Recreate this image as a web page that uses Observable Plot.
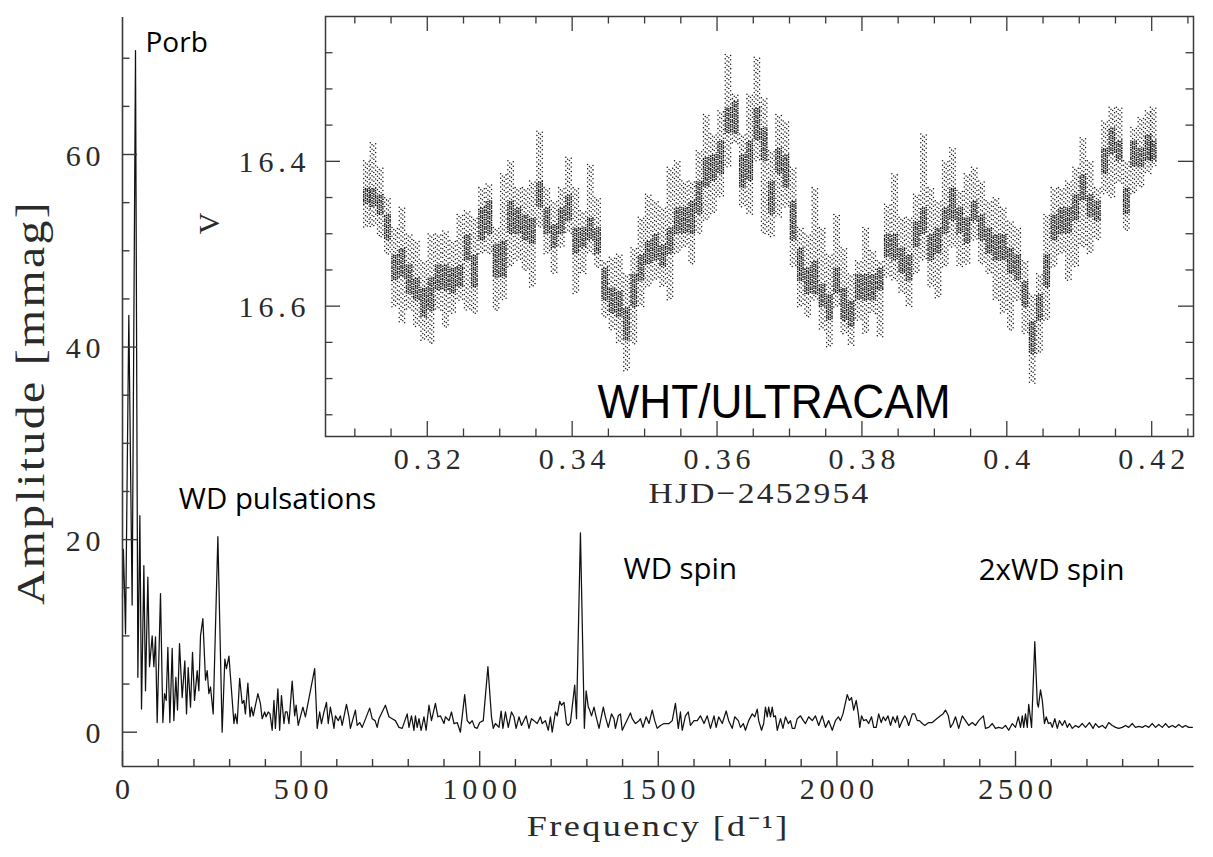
<!DOCTYPE html>
<html><head><meta charset="utf-8">
<script src="https://cdn.jsdelivr.net/npm/d3@7"></script>
<script src="https://cdn.jsdelivr.net/npm/@observablehq/plot@0.6"></script>
<style>
html,body{margin:0;padding:0;background:#fff;}
#wrap{position:relative;width:1213px;height:857px;overflow:hidden;background:#fff;}
#wrap svg{position:absolute;}
</style></head><body><div id="wrap"></div>
<script>
// ---------------- Periodogram (main panel) ----------------
const freq = [0,2.5,5.5,8.5,17.7,27,36.4,43,48.6,53.2,59.8,64.4,71,75.6,83.1,87.8,92.4,97.1,106.4,113,117.6,122.3,127,132.6,139.1,143.8,149.4,154,159.6,167.1,174.5,179.2,183.9,190.4,196,201.6,209.1,213.8,218.4,225,232.4,237.1,241.8,246.4,253.9,267,279,
286.5,291,298,312,316,321,328,335,340,344,351,357,361,366,379,386,391,398,402,408,413,419,424,428,435,440,445,452,456,461,466,475,482,486,492,498,505,512,526,538,545,552,557,564,571,576,582,587,592,596,604,610,615,627,634,638,652,657,664,671,692,699,707,713,718,736,746,755,764,774,783,797,802,809,816,820,825,830,836,844,850,858,865,876,883,890,900,904,914,921,928,937,946,958,965,972,979,986,993,1000,1010,1023,1033,1038,1044,1054,1060,1065,1072,
1080,1089,1096,1102,1110,1117,1130,1138,1145,1152,1161,1170,1175,1184,1192,1198,1203,1212,1217,1224,1229,1236,1243,1248,1254,1266,1271,1282,1293,1298,1304,1307,1313,1320,1326,1334,1346,1352,1360,1369,1376,1380,1388,1394,1399,1408,1422,1427,1436,1446,1450,1457,1466,1474,1483,1490,1497,1506,1516,1530,1539,1548,1556,1562,1567,1576,1584,1590,1600,1609,1618,1628,1637,1646,1656,1662,1669,1679,1690,1697,1707,1714,1724,1730,1738,1744,1753,1763,1770,1777,1781,1789,1795,1800,1805,1809,1814,1819,1823,1828,1833,1842,1849,1856,1864,1870,1875,1882,1889,1898,1906,1912,1921,1931,1940,1949,1959,1968,1977,1987,1996,
2004,2010,2017,2029,2035,2041,2047,2054,2060,2064,2069,2075,2082,2089,2097,2103,2110,2117,2124,2130,2136,2143,2150,2157,2164,2169,2175,2183,2190,2195,2201,2211,2218,2225,2231,2239,2246,2257,2267,2276,2290,2297,2304,2312,2318,2325,2332,2341,2351,2360,2369,2379,2388,2397,2410,2416,2425,2435,2444,2453,2463,2472,2481,2491,2500,2508,2514,2519,2523,2528,2533,2537,2545,2554,2561,2564,2570,2575,2581,2586,2592,2598,2603,2610,2617,2623,2631,2638,2645,2651,2659,2668,2677,2687,2696,2707,2717,2724,2733,2743,2752,2761,2771,2780,2789,2799,2808,2817,2827,2836,2845,2855,2864,2873,2883,2892,2901,2911,2920,2929,2939,2948,2957,2967,2976,2985,2995];
const amp = [14,19,15,10.2,43.3,13.2,70.8,5.7,22.5,2.4,17.3,4.3,16.1,6.8,10.0,6.8,9.9,1.0,14.4,1.0,4.0,3.3,8.8,1.0,8.7,1.2,5.7,2.3,9.2,3.6,7.4,1.9,6.7,2.6,8.3,3.3,6.4,4.3,10.0,11.8,5.4,6.4,4.0,4.7,1.9,20.3,0.0,
7.6,6.6,7.9,0.9,1.9,0.9,5.6,3.0,3.3,1.9,5.1,1.6,2.6,1.7,4.0,3.0,1.4,2.1,1.6,2.1,1.9,0.2,3.3,0.4,4.5,0.2,3.8,0.9,2.1,2.1,0.9,5.3,1.7,2.8,0.7,1.6,2.6,1.6,4.3,6.6,0.4,2.1,0.9,2.1,3.1,0.9,2.6,1.6,0.4,1.7,1.2,1.7,0.7,2.9,1.6,0.4,2.3,0.7,1.0,0.5,2.5,1.4,1.2,0.5,1.4,2.8,1.6,1.4,1.2,0.5,0.4,1.9,0.5,1.7,0.2,1.7,0.5,1.4,0.2,1.6,0.2,2.8,1.2,3.0,1.6,1.7,0.9,1.6,1.2,2.1,0.9,1.0,0.0,3.9,1.2,0.9,1.2,0.5,0.4,1.0,1.2,6.8,1.6,0.4,0.9,0.5,2.2,0.4,2.1,
0.5,2.1,1.6,0.4,1.6,0.7,1.7,0.4,1.4,1.2,0.9,1.6,0.9,1.2,0.2,1.6,0.0,2.1,1.7,3.2,2.8,3.1,0.9,0.7,1.0,4.9,1.4,20.7,0.4,4.3,2.6,2.4,1.7,2.6,1.6,0.4,2.6,1.6,0.5,1.9,1.4,0.4,1.7,1.9,0.2,0.9,2.0,1.4,0.9,1.2,1.4,0.5,1.6,0.9,2.3,1.2,0.4,0.7,0.9,0.9,1.2,3.0,0.4,2.1,0.2,1.7,2.1,0.7,1.2,1.2,1.7,0.9,1.7,0.4,1.7,0.5,1.6,0.9,2.2,1.2,0.4,1.6,1.2,0.5,0.9,0.2,1.2,1.9,1.6,2.4,1.2,0.2,0.9,2.6,1.6,2.6,1.6,2.6,1.6,1.7,0.2,1.4,0.4,1.6,0.9,1.2,0.4,0.4,1.4,1.7,1.2,0.9,1.6,1.2,1.7,0.7,1.7,0.5,1.2,0.2,1.2,
1.6,1.2,1.9,3.9,3.3,3.6,2.3,3.3,1.9,0.5,1.7,1.2,1.3,0.9,1.6,0.5,0.5,1.9,1.0,1.6,1.2,1.7,0.7,1.6,1.0,1.7,0.5,1.2,1.7,1.4,0.7,1.9,1.9,1.2,1.2,0.9,0.7,1.0,1.0,1.3,1.7,1.9,2.3,1.7,0.5,0.9,1.6,0.4,1.7,1.2,0.7,1.0,0.7,1.2,1.7,0.4,0.5,0.9,0.4,0.5,0.4,0.7,0.2,0.9,0.5,1.6,0.5,1.7,0.5,1.9,0.5,2.9,0.5,9.4,3.0,2.6,4.4,3.3,0.9,1.6,0.9,1.0,0.5,1.4,0.4,1.2,0.7,1.2,0.5,0.9,0.4,0.7,0.5,0.9,0.5,1.0,0.4,0.9,0.5,0.7,0.4,1.0,0.7,0.5,0.4,0.5,0.7,0.5,0.9,0.5,0.6,0.5,0.7,0.5,0.9,0.5,0.8,0.5,0.9,0.5,0.7,0.5,0.8,0.5,0.7,0.5,0.5];

const ampMajorTicks = [0, 20, 40, 60];
const ampMinorTicks = [5, 10, 15, 25, 30, 35, 45, 50, 55, 65, 70];
const freqMajorTicks = [0, 500, 1000, 1500, 2000, 2500];
const freqMinorTicks = [100,200,300,400,600,700,800,900,1100,1200,1300,1400,1600,1700,1800,1900,2100,2200,2300,2400,2600,2700,2800,2900];

const annoLabels = ["Porb", "WD pulsations", "WD spin", "2xWD spin"];
const annoFreq = [64.4, 157.6, 1402.6, 2397.3];
const annoAmp = [71.6, 24.18, 16.91, 16.82];

// ---------------- Light curve (inset) ----------------
const lcTime = [0.3116,0.3125,0.3135,0.3145,0.3155,0.3165,0.3175,0.3185,0.3195,0.3205,0.3215,0.3225,0.3235,0.3245,0.3255,0.3265,0.3275,0.3285,0.3295,0.3305,0.3315,0.3325,0.3335,0.3345,0.3355,0.3365,0.3375,0.3385,0.3395,0.3405,0.3415,0.3425,0.3435,0.3445,0.3455,0.3465,0.3475,0.3485,0.3495,0.3505,0.3515,0.3525,0.3535,0.3545,0.3555,0.3565,0.3575,0.3585,0.3595,0.3605,0.3615,0.3625,0.3635,0.3645,0.3655,0.3665,0.3675,0.3685,0.3695,0.3705,0.3715,0.3725,0.3735,0.3745,0.3755,0.3765,0.3775,0.3785,0.3795,0.3805,0.3815,0.3825,0.3835,0.3845,0.3855,0.3865,0.3875,0.3885,0.3895,0.3905,0.3915,0.3925,0.3935,0.3945,0.3955,0.3965,0.3975,0.3985,0.3995,0.4005,0.4015,0.4025,0.4035,0.4045,0.4055,0.4065,0.4075,0.4085,0.4095,0.4105,0.4115,0.4125,0.4135,0.4145,0.4155,0.4165,0.4175,0.4185,0.4195,0.4202];
const lcOuterTop = [16.400,16.375,16.409,16.451,16.492,16.464,16.501,16.510,16.538,16.501,
16.501,16.497,16.510,16.474,16.469,16.478,16.437,16.432,16.492,16.418,
16.400,16.437,16.437,16.428,16.359,16.437,16.455,16.437,16.395,16.437,
16.469,16.405,16.451,16.538,16.533,16.529,16.556,16.520,16.478,16.446,
16.455,16.464,16.409,16.400,16.428,16.428,16.386,16.336,16.363,16.331,
16.253,16.308,16.363,16.308,16.257,16.313,16.386,16.336,16.345,16.409,
16.492,16.501,16.437,16.492,16.529,16.474,16.520,16.556,16.538,16.492,
16.524,16.538,16.460,16.418,16.478,16.478,16.446,16.363,16.437,16.455,
16.400,16.382,16.441,16.418,16.409,16.428,16.455,16.451,16.464,16.483,
16.492,16.538,16.584,16.556,16.474,16.437,16.437,16.428,16.409,16.368,
16.400,16.437,16.345,16.326,16.326,16.400,16.354,16.340,16.331,16.326];
const lcCoreTop = [16.437,16.437,16.446,16.474,16.529,16.520,16.543,16.561,16.575,16.561,
16.543,16.543,16.547,16.543,16.501,16.529,16.464,16.455,16.515,16.510,
16.455,16.464,16.474,16.478,16.428,16.464,16.487,16.464,16.446,16.492,
16.492,16.478,16.492,16.547,16.575,16.579,16.602,16.556,16.529,16.510,
16.501,16.515,16.492,16.464,16.464,16.455,16.428,16.395,16.391,16.372,
16.326,16.317,16.391,16.372,16.326,16.354,16.428,16.382,16.391,16.455,
16.520,16.547,16.538,16.570,16.584,16.547,16.575,16.593,16.556,16.556,
16.556,16.547,16.501,16.501,16.520,16.529,16.483,16.464,16.501,16.492,
16.464,16.437,16.464,16.478,16.455,16.474,16.492,16.501,16.501,16.520,
16.529,16.566,16.621,16.584,16.529,16.474,16.464,16.464,16.446,16.418,
16.446,16.455,16.382,16.354,16.372,16.437,16.372,16.382,16.363,16.372];
const lcCoreBottom = [16.460,16.464,16.474,16.510,16.566,16.561,16.584,16.593,16.616,16.607,
16.579,16.579,16.584,16.575,16.538,16.575,16.510,16.501,16.561,16.561,
16.501,16.501,16.510,16.515,16.464,16.501,16.520,16.501,16.483,16.529,
16.520,16.510,16.529,16.593,16.611,16.616,16.648,16.602,16.566,16.543,
16.538,16.547,16.529,16.501,16.501,16.501,16.474,16.437,16.428,16.418,
16.363,16.363,16.437,16.428,16.372,16.400,16.474,16.418,16.437,16.510,
16.566,16.584,16.584,16.602,16.621,16.584,16.621,16.630,16.593,16.593,
16.593,16.579,16.533,16.538,16.556,16.566,16.520,16.501,16.538,16.529,
16.501,16.483,16.501,16.515,16.483,16.510,16.529,16.538,16.538,16.556,
16.566,16.602,16.667,16.621,16.575,16.510,16.501,16.501,16.483,16.455,
16.478,16.483,16.418,16.391,16.400,16.474,16.409,16.409,16.400,16.400];
const lcOuterBottom = [16.492,16.492,16.506,16.529,16.602,16.625,16.607,16.630,16.648,16.653,
16.607,16.630,16.611,16.593,16.607,16.611,16.529,16.529,16.607,16.593,
16.547,16.538,16.552,16.575,16.492,16.529,16.556,16.520,16.501,16.584,
16.556,16.529,16.547,16.616,16.634,16.653,16.690,16.653,16.602,16.575,
16.566,16.575,16.593,16.529,16.520,16.543,16.501,16.483,16.474,16.451,
16.409,16.377,16.464,16.474,16.400,16.501,16.506,16.478,16.464,16.547,
16.602,16.616,16.593,16.634,16.657,16.602,16.639,16.655,16.621,16.639,
16.611,16.644,16.561,16.566,16.584,16.602,16.556,16.538,16.575,16.589,
16.547,16.520,16.547,16.543,16.510,16.543,16.556,16.593,16.611,16.634,
16.593,16.639,16.708,16.667,16.621,16.547,16.529,16.566,16.547,16.520,
16.529,16.510,16.446,16.451,16.432,16.497,16.446,16.437,16.418,16.409];

const vMajorTicks = [16.4, 16.6];
const vMajorLabels = ["16.4", "16.6"];
const vMinorTicks = [16.25,16.3,16.35,16.45,16.5,16.55,16.65,16.7,16.75];
const tMajorTicks = [0.32, 0.34, 0.36, 0.38, 0.40, 0.42];
const tMajorLabels = ["0.32", "0.34", "0.36", "0.38", "0.4", "0.42"];
const tMinorTicks = [0.31,0.315,0.325,0.33,0.335,0.345,0.35,0.355,0.365,0.37,0.375,0.385,0.39,0.395,0.405,0.41,0.415,0.425];

const xTitle = "Frequency [d\u207B\u00B9]";
const yTitle = "Amplitude [mmag]";
const insetXTitle = "HJD\u22122452954";
const insetYTitle = "V";
const insetLabel = "WHT/ULTRACAM";

// ---------------- layout / style ----------------
const W = 1213, H = 857;
const serif = "Liberation Serif, Times New Roman, serif";
const sans = "Open Sans, Noto Sans, sans-serif";
const axisColor = "#3a3a3a";
const textColor = "#2a2a2a";
const tickFont = 30;
const tickSpacing = 4.8;

const freqDomain = [0, 3000];
const ampDomain = [-3.563, 74.23];
const mL = 122, mR = 19.4, mT = 17, mB = 91;
const frameW = W - mL - mR, frameH = H - mT - mB;

const periodogram = freq.map((f, i) => ({f, a: amp[i]}));
const annotations = annoLabels.map((label, i) => ({label, f: annoFreq[i], a: annoAmp[i]}));

const main = Plot.plot({
  width: W, height: H,
  marginLeft: mL, marginRight: mR, marginTop: mT, marginBottom: mB,
  x: {domain: freqDomain, axis: null},
  y: {domain: ampDomain, axis: null},
  style: {background: "transparent", overflow: "visible"},
  marks: [
    Plot.lineY(periodogram, {x: "f", y: "a", stroke: "#111", strokeWidth: 1.25}),
    Plot.ruleX([freqDomain[0]], {stroke: axisColor, strokeWidth: 1.6}),
    Plot.ruleY([ampDomain[0]], {stroke: axisColor, strokeWidth: 1.6}),
    Plot.tickY(ampMajorTicks, {y: d => d, insetRight: frameW - 15, stroke: axisColor, strokeWidth: 1.4}),
    Plot.tickY(ampMinorTicks, {y: d => d, insetRight: frameW - 7.5, stroke: axisColor, strokeWidth: 1.4}),
    Plot.tickX(freqMajorTicks, {x: d => d, insetTop: frameH - 15, stroke: axisColor, strokeWidth: 1.4}),
    Plot.tickX(freqMinorTicks, {x: d => d, insetTop: frameH - 7, stroke: axisColor, strokeWidth: 1.4}),
    Plot.text(ampMajorTicks, {x: freqDomain[0], y: d => d, text: d => String(d), textAnchor: "end", lineAnchor: "middle", dx: -22 + tickSpacing, dy: 1.5, fontFamily: serif, fontSize: tickFont, fill: textColor}),
    Plot.text(freqMajorTicks, {x: d => d, y: ampDomain[0], text: d => String(d), textAnchor: "middle", lineAnchor: "middle", dx: tickSpacing / 2, dy: 23, fontFamily: serif, fontSize: tickFont, fill: textColor}),
    Plot.text([xTitle], {frameAnchor: "bottom", text: d => d, textAnchor: "middle", lineAnchor: "middle", dy: 60, fontFamily: serif, fontSize: 30, fill: textColor}),
    Plot.text([yTitle], {frameAnchor: "left", text: d => d, textAnchor: "middle", lineAnchor: "middle", rotate: -90, dx: -91, dy: 10.5, fontFamily: serif, fontSize: 40, fill: textColor}),
    Plot.text(annotations, {x: "f", y: "a", text: "label", textAnchor: "start", lineAnchor: "middle", fontFamily: sans, fontSize: d => d.label === "Porb" ? 28 : 29.4, fill: "#000"})
  ]
});

const inset = Plot.plot({
  width: 1063, height: 520,
  marginLeft: 175, marginRight: 20, marginTop: 16, marginBottom: 84,
  x: {domain: [0.30595, 0.42577], axis: null},
  y: {domain: [16.2, 16.78], reverse: true, axis: null},
  style: {background: "transparent", overflow: "visible"},
  marks: (() => {
    const lc = lcTime.map((t, i) => ({t, ot: lcOuterTop[i], ct: lcCoreTop[i], cb: lcCoreBottom[i], ob: lcOuterBottom[i]}));
    const iW = 868, iH = 420;
    const cols = [[-2.7, 0, 0.3], [-0.9, 2.3, 1.5], [0.9, 1.1, 0.9], [2.7, 3.4, 2.0]];
    const marks = [];
    for (const [dx, o1, o2] of cols) {
      marks.push(Plot.ruleX(lc, {x: "t", y1: "ot", y2: "ob", dx, stroke: "#1a1a1a", strokeWidth: 1.5, strokeLinecap: "round", strokeDasharray: "0.01 4.4", strokeDashoffset: o1}));
      marks.push(Plot.ruleX(lc, {x: "t", y1: "ct", y2: "cb", dx, stroke: "#111", strokeWidth: 1.6, strokeLinecap: "round", strokeDasharray: "0.01 2.4", strokeDashoffset: o2}));
    }
    marks.push(
      Plot.frame({stroke: axisColor, strokeWidth: 1.5}),
      Plot.tickY(vMajorTicks, {y: d => d, insetRight: iW - 15, stroke: axisColor, strokeWidth: 1.3}),
      Plot.tickY(vMinorTicks, {y: d => d, insetRight: iW - 7.5, stroke: axisColor, strokeWidth: 1.3}),
      Plot.tickY(vMajorTicks, {y: d => d, insetLeft: iW - 15, stroke: axisColor, strokeWidth: 1.3}),
      Plot.tickY(vMinorTicks, {y: d => d, insetLeft: iW - 7.5, stroke: axisColor, strokeWidth: 1.3}),
      Plot.tickX(tMajorTicks, {x: d => d, insetTop: iH - 15, stroke: axisColor, strokeWidth: 1.3}),
      Plot.tickX(tMinorTicks, {x: d => d, insetTop: iH - 7.5, stroke: axisColor, strokeWidth: 1.3}),
      Plot.tickX(tMajorTicks, {x: d => d, insetBottom: iH - 15, stroke: axisColor, strokeWidth: 1.3}),
      Plot.tickX(tMinorTicks, {x: d => d, insetBottom: iH - 7.5, stroke: axisColor, strokeWidth: 1.3}),
      Plot.text(vMajorTicks, {x: 0.30595, y: d => d, text: (d, i) => vMajorLabels[i], textAnchor: "end", lineAnchor: "middle", dx: -20 + tickSpacing, dy: 1.5, fontFamily: serif, fontSize: tickFont, fill: textColor}),
      Plot.text(tMajorTicks, {x: d => d, y: 16.78, text: (d, i) => tMajorLabels[i], textAnchor: "middle", lineAnchor: "middle", dx: tickSpacing / 2, dy: 23, fontFamily: serif, fontSize: tickFont, fill: textColor}),
      Plot.text([insetXTitle], {frameAnchor: "bottom", text: d => d, textAnchor: "middle", lineAnchor: "middle", dy: 57, fontFamily: serif, fontSize: 30, fill: textColor}),
      Plot.text([insetYTitle], {frameAnchor: "left", text: d => d, textAnchor: "middle", lineAnchor: "middle", rotate: -90, dx: -116.5, dy: -3, fontFamily: serif, fontSize: 30, fill: textColor}),
      Plot.text([insetLabel], {x: 0.3435, y: 16.7322, text: d => d, textAnchor: "start", lineAnchor: "middle", fontFamily: "Liberation Sans, Arial, sans-serif", fontSize: 49, fill: "#000"})
    );
    return marks;
  })()
});

// text fitting (widths measured on the reference)
const fits = new Map([
  [xTitle, [263, "spacingAndGlyphs", 2]],
  [yTitle, [405, "spacingAndGlyphs", 2]],
  [insetXTitle, [222, "spacingAndGlyphs", 2]],
  [insetLabel, [353, "spacingAndGlyphs", 0]]
]);
const tickLabelSet = new Set([...ampMajorTicks.map(String), ...freqMajorTicks.map(String), ...vMajorLabels, ...tMajorLabels]);
for (const svg of [main, inset]) {
  d3.select(svg).selectAll("text").each(function() {
    const f = fits.get(this.textContent);
    if (f) {
      if (f[2]) this.style.letterSpacing = f[2] + "px";
      this.setAttribute("textLength", f[0]);
      this.setAttribute("lengthAdjust", f[1]);
    }
    if (tickLabelSet.has(this.textContent)) this.style.letterSpacing = tickSpacing + "px";
  });
}

const wrap = document.getElementById("wrap");
main.style.left = "0px"; main.style.top = "0px";
inset.style.left = "150px"; inset.style.top = "0px";
wrap.append(main, inset);
</script>
</body></html>
